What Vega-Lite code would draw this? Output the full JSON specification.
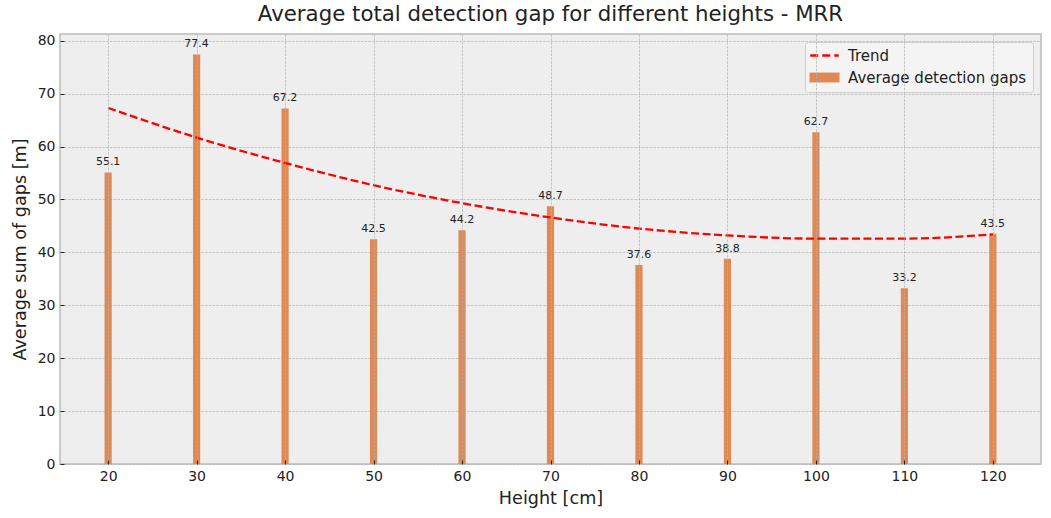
{
  "$schema": "https://vega.github.io/schema/vega-lite/v6.json",
  "width": 981,
  "height": 430,
  "autosize": "none",
  "padding": {"left": 60, "top": 34, "right": 10, "bottom": 54},
  "title": {
    "text": "Average total detection gap for different heights - MRR",
    "fontSize": 21.3,
    "fontWeight": "normal",
    "color": "#222222",
    "offset": 8
  },
  "datasets": {
    "gaps": [
      {"height": 20, "gap": 55.1},
      {"height": 30, "gap": 77.4},
      {"height": 40, "gap": 67.2},
      {"height": 50, "gap": 42.5},
      {"height": 60, "gap": 44.2},
      {"height": 70, "gap": 48.7},
      {"height": 80, "gap": 37.6},
      {"height": 90, "gap": 38.8},
      {"height": 100, "gap": 62.7},
      {"height": 110, "gap": 33.2},
      {"height": 120, "gap": 43.5}
    ],
    "trend": [
      {"height": 20, "gap": 67.3},
      {"height": 30, "gap": 61.7},
      {"height": 40, "gap": 56.9},
      {"height": 50, "gap": 52.7},
      {"height": 60, "gap": 49.3},
      {"height": 70, "gap": 46.6},
      {"height": 80, "gap": 44.5},
      {"height": 90, "gap": 43.2},
      {"height": 100, "gap": 42.6},
      {"height": 110, "gap": 42.6},
      {"height": 120, "gap": 43.4}
    ]
  },
  "encoding": {
    "x": {
      "field": "height",
      "type": "quantitative",
      "scale": {"domain": [14.56, 125.44], "nice": false, "zero": false, "padding": 0},
      "axis": {
        "title": "Height [cm]",
        "values": [20, 30, 40, 50, 60, 70, 80, 90, 100, 110, 120],
        "zindex": 1
      }
    },
    "y": {
      "field": "gap",
      "type": "quantitative",
      "scale": {"domain": [0, 81.27], "nice": false, "padding": 0},
      "axis": {
        "title": "Average sum of gaps [m]",
        "values": [0, 10, 20, 30, 40, 50, 60, 70, 80]
      }
    }
  },
  "layer": [
    {
      "data": {"name": "gaps"},
      "mark": {"type": "bar", "orient": "vertical", "width": 7.2},
      "encoding": {
        "color": {"datum": "Average detection gaps"}
      }
    },
    {
      "data": {"name": "gaps"},
      "mark": {
        "type": "text",
        "baseline": "alphabetic",
        "dy": -7,
        "fontSize": 11,
        "color": "#222222"
      },
      "encoding": {
        "text": {"field": "gap", "type": "quantitative", "format": ".1f"}
      }
    },
    {
      "data": {"name": "trend"},
      "mark": {
        "type": "line",
        "interpolate": "monotone",
        "strokeWidth": 2.3,
        "strokeDash": [8, 3.5]
      },
      "encoding": {
        "color": {
          "datum": "Trend",
          "scale": {
            "domain": ["Trend", "Average detection gaps"],
            "range": ["#ff0000", "#df8a55"]
          },
          "legend": {
            "title": null,
            "orient": "top-right",
            "offset": 8,
            "fillColor": "#f4f4f4",
            "strokeColor": "#cfcfcf",
            "cornerRadius": 3,
            "padding": 6,
            "labelFontSize": 15,
            "labelColor": "#222222",
            "labelLimit": 400,
            "labelOffset": 16,
            "symbolSize": 225,
            "symbolOffset": 6,
            "rowPadding": 6,
            "encode": {
              "symbols": {
                "update": {
                  "shape": {"signal": "datum.value === 'Trend' ? 'M-1.9,0H1.9' : 'M-2,-0.66H2V0.66H-2Z'"},
                  "fill": {"signal": "datum.value === 'Trend' ? 'transparent' : '#df8a55'"},
                  "stroke": {"signal": "datum.value === 'Trend' ? '#ff0000' : 'transparent'"},
                  "strokeWidth": {"signal": "datum.value === 'Trend' ? 2.3 : 0"},
                  "strokeDash": {"signal": "datum.value === 'Trend' ? [8, 4] : [1, 0]"},
                  "opacity": {"value": 1}
                }
              }
            }
          }
        }
      }
    }
  ],
  "config": {
    "font": "DejaVu Sans",
    "view": {"fill": "#eeeeee", "stroke": "#bcbcbc", "strokeWidth": 1.5},
    "axis": {
      "domain": false,
      "grid": true,
      "gridColor": "#b2b2b2",
      "gridWidth": 0.7,
      "gridDash": [2.6, 1.2],
      "tickColor": "#222222",
      "tickSize": -4,
      "tickWidth": 1,
      "labelFontSize": 14,
      "labelColor": "#222222",
      "labelPadding": 9,
      "titleFontSize": 17.6,
      "titleFontWeight": "normal",
      "titleColor": "#222222"
    },
    "axisX": {"titlePadding": 6},
    "axisY": {"titlePadding": 8}
  }
}
